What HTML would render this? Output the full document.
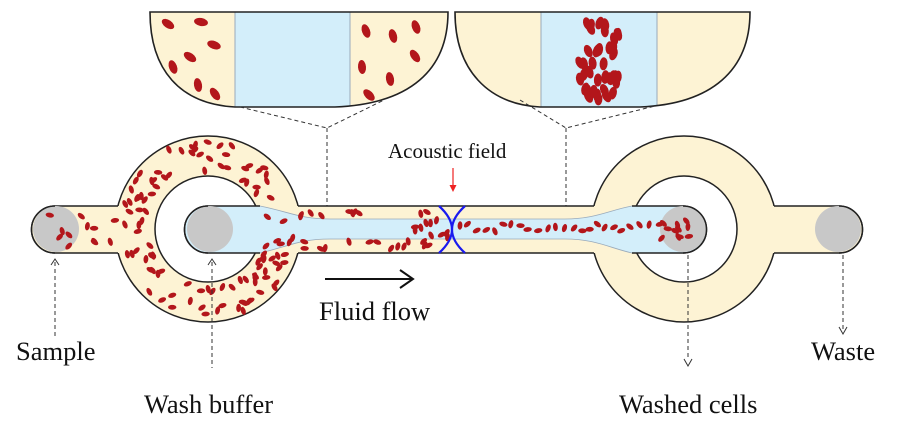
<!DOCTYPE html>
<html><head><meta charset="utf-8"><style>
html,body{margin:0;padding:0;background:#fff;}
svg{display:block}
text{font-family:"Liberation Serif",serif;fill:#111}
</style></head><body>
<svg id="s" width="900" height="435" viewBox="0 0 900 435" xmlns="http://www.w3.org/2000/svg">
<defs>
<clipPath id="lb"><path d="M150,12 L448,12 C448,70 410,104 335,107 L235,107 C180,104 150,70 150,12 Z"/></clipPath>
<clipPath id="rb"><path d="M455,12 L750,12 C750,70 712,104 640,107 L540,107 C488,104 455,70 455,12 Z"/></clipPath>
</defs>
<g clip-path="url(#lb)">
<rect x="150" y="12" width="300" height="96" fill="#fdf3d4"/>
<rect x="235" y="12" width="115" height="96" fill="#d3eefa"/>
<line x1="235" y1="12" x2="235" y2="108" stroke="#9ab" stroke-width="1"/>
<line x1="350" y1="12" x2="350" y2="108" stroke="#9ab" stroke-width="1"/>
</g>
<path d="M150,12 L448,12 C448,70 410,104 335,107 L235,107 C180,104 150,70 150,12 Z" fill="none" stroke="#222" stroke-width="1.6"/>
<g clip-path="url(#rb)">
<rect x="455" y="12" width="296" height="96" fill="#fdf3d4"/>
<rect x="541" y="12" width="116" height="96" fill="#d3eefa"/>
<line x1="541" y1="12" x2="541" y2="108" stroke="#9ab" stroke-width="1"/>
<line x1="657" y1="12" x2="657" y2="108" stroke="#9ab" stroke-width="1"/>
</g>
<path d="M455,12 L750,12 C750,70 712,104 640,107 L540,107 C488,104 455,70 455,12 Z" fill="none" stroke="#222" stroke-width="1.6"/>
<g id="topcells"></g>
<g stroke="#333" stroke-width="1" stroke-dasharray="4,3" fill="none">
<polyline points="240,107 327,128 384,100"/>
<line x1="327" y1="128" x2="327" y2="253"/>
<polyline points="520,100 566,128 655,106"/>
<line x1="566" y1="128" x2="566" y2="253"/>
</g>
<g fill="#fdf3d4" stroke="#222" stroke-width="1.5">
<circle cx="208" cy="229" r="93"/>
<circle cx="684" cy="229" r="93"/>
</g>
<g fill="#fdf3d4">
<path d="M55,206 L300,206 L300,253 L55,253 A23.5,23.5 0 0 1 55,206 Z"/>
<rect x="290" y="206" width="310" height="47"/>
<path d="M770,206 L839,206 A23.5,23.5 0 0 1 839,253 L770,253 Z"/>
</g>
<g stroke="#222" stroke-width="1.5" fill="none">
<path d="M118,206 L55,206 A23.5,23.5 0 0 0 55,253 L118,253"/>
<line x1="298" y1="206" x2="594" y2="206"/>
<line x1="298" y1="253" x2="594" y2="253"/>
<path d="M774,206 L839,206 A23.5,23.5 0 0 1 839,253 L774,253"/>
</g>
<circle cx="208" cy="229" r="53" fill="#fff" stroke="#222" stroke-width="1.5"/>
<circle cx="684" cy="229" r="53" fill="#fff" stroke="#222" stroke-width="1.5"/>
<path d="M210,206 L260,206 C290,212 300,219 330,219 L565,219 C595,219 610,210 632,206 L683,206 L683,253 L632,253 C610,248 595,239 565,239 L330,239 C300,239 290,246 260,253 L210,253 Z" fill="#d3eefa"/>
<path d="M260,206 C290,212 300,219 330,219 L565,219 C595,219 610,210 632,206 M260,253 C290,246 300,239 330,239 L565,239 C595,239 610,248 632,253" fill="none" stroke="#9ab" stroke-width="0.8"/>
<path d="M260,206 L208,206 A23.5,23.5 0 0 0 208,253 L260,253" fill="#d3eefa" stroke="#222" stroke-width="1.5"/>
<path d="M632,206 L683,206 A23.5,23.5 0 0 1 683,253 L632,253" fill="#d3eefa" stroke="#222" stroke-width="1.5"/>
<circle cx="56" cy="229" r="23" fill="#c8c8c8"/>
<circle cx="210" cy="229" r="23" fill="#c8c8c8"/>
<circle cx="683" cy="229" r="23" fill="#c8c8c8"/>
<circle cx="838" cy="229" r="23" fill="#c8c8c8"/>
<path d="M55,206 A23.5,23.5 0 0 0 55,253" fill="none" stroke="#222" stroke-width="1.5"/>
<path d="M208,206 A23.5,23.5 0 0 0 208,253" fill="none" stroke="#222" stroke-width="1.5"/>
<path d="M683,206 A23.5,23.5 0 0 1 683,253" fill="none" stroke="#222" stroke-width="1.5"/>
<path d="M839,206 A23.5,23.5 0 0 1 839,253" fill="none" stroke="#222" stroke-width="1.5"/>
<g id="cells"></g>
<g stroke="#1a1aee" stroke-width="2.2" fill="none">
<path d="M439,206 Q465,229.5 439,253"/>
<path d="M465,206 Q439,229.5 465,253"/>
</g>
<line x1="453" y1="168" x2="453" y2="186" stroke="#e22" stroke-width="1.2"/>
<path d="M449.5,185 L453,192 L456.5,185 Z" fill="#e22"/>
<text x="388" y="158" font-size="21">Acoustic field</text>
<g stroke="#111" stroke-width="2" fill="none">
<line x1="325" y1="279" x2="412" y2="279"/>
<polyline points="400,270 413,279 400,288"/>
</g>
<text x="319" y="320" font-size="26.5">Fluid flow</text>
<g stroke="#333" stroke-width="1" stroke-dasharray="4,3" fill="none">
<line x1="55" y1="262" x2="55" y2="338"/>
<line x1="212" y1="262" x2="212" y2="368"/>
<line x1="688" y1="255" x2="688" y2="360"/>
<line x1="843" y1="255" x2="843" y2="330"/>
</g>
<g stroke="#333" stroke-width="1" fill="none">
<polyline points="51,265 55,259 59,265"/>
<polyline points="208,265 212,259 216,265"/>
<polyline points="684,359 688,366 692,359"/>
<polyline points="839,327 843,334 847,327"/>
</g>
<text x="16" y="360" font-size="26.5">Sample</text>
<text x="144" y="413" font-size="26.5">Wash buffer</text>
<text x="619" y="413" font-size="26.5">Washed cells</text>
<text x="811" y="360" font-size="26.5">Waste</text>
</svg>
<script>
(function(){
var seed=7;function r(){seed=(seed*16807)%2147483647;return (seed-1)/2147483646;}
var NS="http://www.w3.org/2000/svg";
function cell(g,x,y,a,rx,ry){var e=document.createElementNS(NS,"ellipse");e.setAttribute("cx",x.toFixed(1));e.setAttribute("cy",y.toFixed(1));e.setAttribute("rx",rx);e.setAttribute("ry",ry);e.setAttribute("fill","#b3161b");e.setAttribute("transform","rotate("+a.toFixed(0)+" "+x.toFixed(1)+" "+y.toFixed(1)+")");g.appendChild(e);}
var g=document.getElementById("cells"),t=document.getElementById("topcells");
var n=0;while(n<110){var x=115+r()*186,y=136+r()*186;var d=Math.hypot(x-208,y-229);if(d>58&&d<89){cell(g,x,y,r()*180,4.2,2.4);n++;}}
for(var i=0;i<12;i++){var x=40+r()*80,y=212+r()*35;cell(g,x,y,r()*180,4.2,2.4);}
for(var i=0;i<24;i++){var x=300+r()*135,y=r()<0.5?210+r()*8:241+r()*8;cell(g,x,y,r()*180,4.2,2.4);}
for(var i=0;i<10;i++){cell(g,415+r()*40,220+r()*20,r()*180,4.2,2.4);}
for(var x=460;x<690;x+=7+r()*4){cell(g,x,228+(r()-0.5)*8,r()*180,4.2,2.4);}
for(var i=0;i<8;i++){cell(g,660+r()*30,220+r()*20,r()*180,4.2,2.4);}
var L=[[173,29,35],[206,27,10],[219,50,20],[195,62,35],[178,72,70],[203,90,80],[220,99,55],[371,36,70],[398,41,75],[421,32,70],[420,61,55],[367,72,85],[395,84,80],[374,100,45]];
L.forEach(function(p){cell(t,p[0]-5,p[1]-5,p[2],7,4);});
for(var i=0;i<40;i++){cell(t,580+r()*40,22+r()*78,60+r()*50,6.5,4);}
})();
</script>
</body></html>
